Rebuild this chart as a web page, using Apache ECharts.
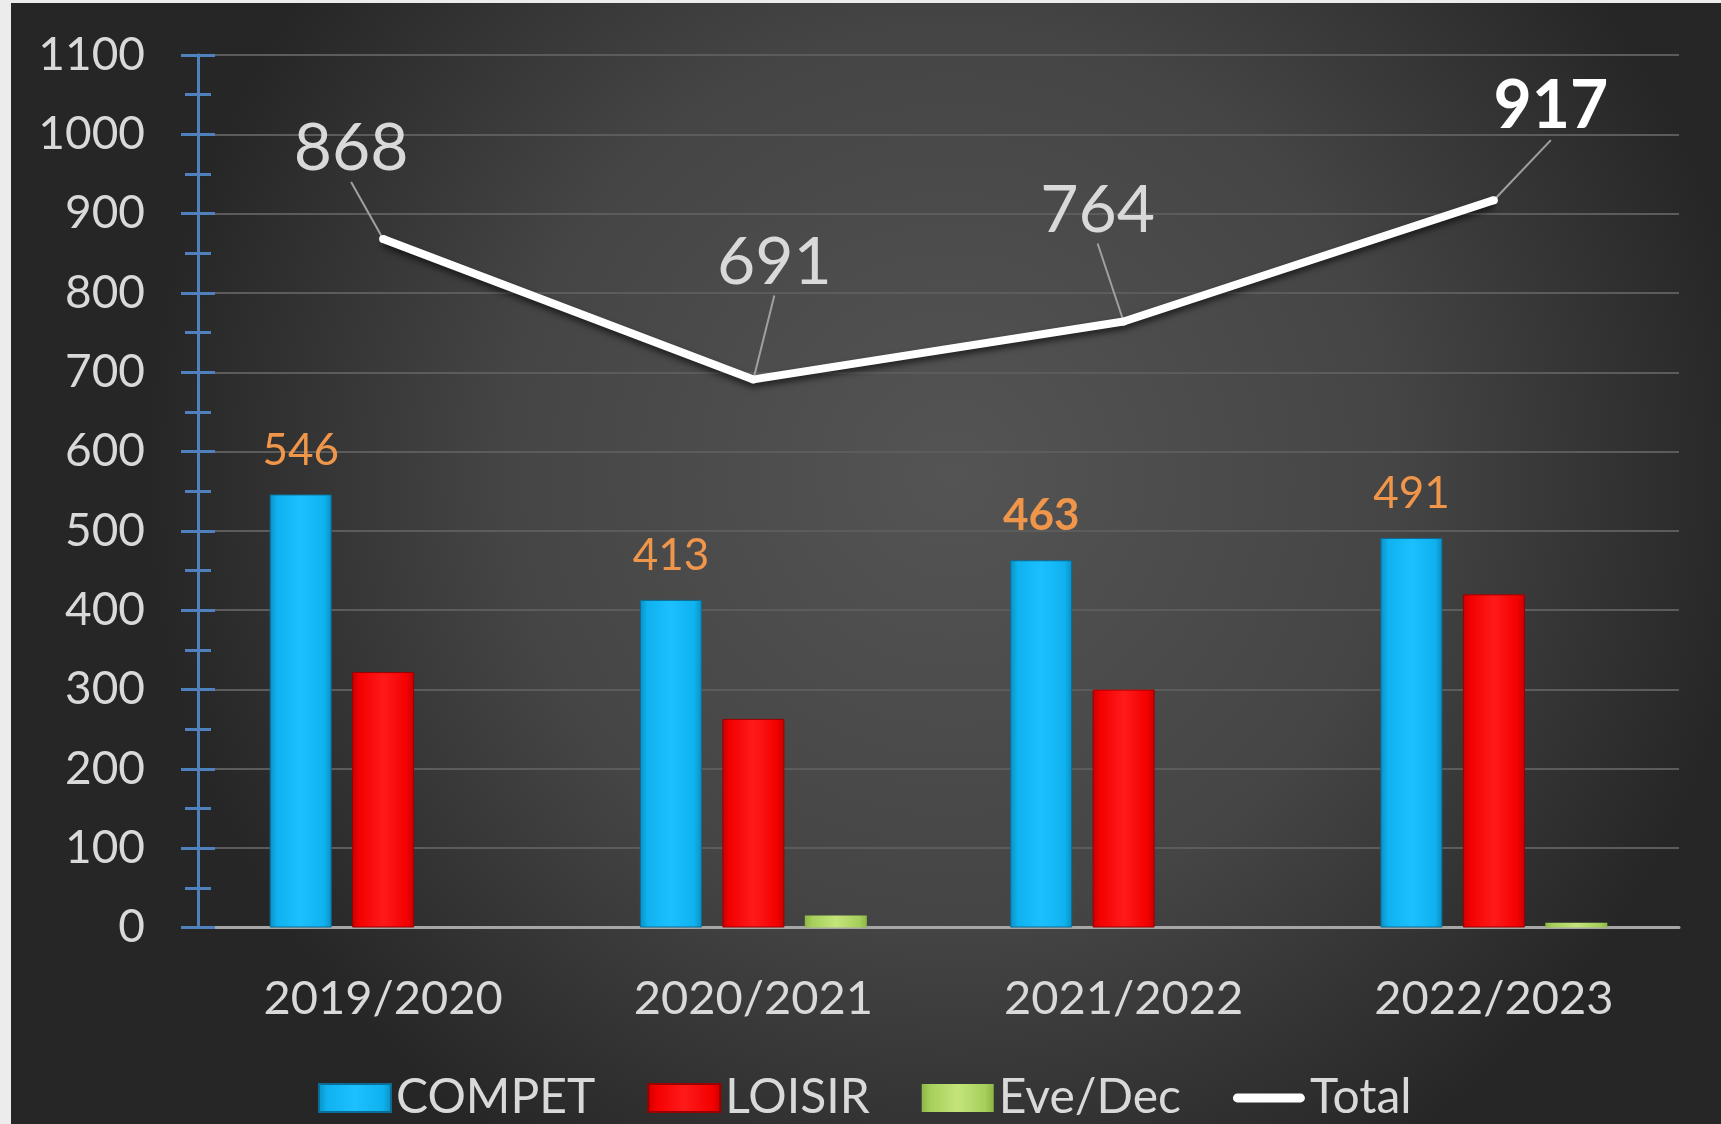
<!DOCTYPE html>
<html>
<head>
<meta charset="utf-8">
<script src="https://cdn.jsdelivr.net/npm/echarts@6/dist/echarts.min.js"></script>
<style>
  html, body { margin: 0; padding: 0; background: #ececec; overflow: hidden; }
  #chart { position: absolute; left: 11px; top: 3px; width: 1710px; height: 1121px; }
</style>
</head>
<body>
<div id="chart"></div>
<script>
// ---- data ----
const categories = ['2019/2020', '2020/2021', '2021/2022', '2022/2023'];
const compet = [546, 413, 463, 491];
const loisir = [322, 263, 300, 420];
const eveDec = [0, 15, 0, 6];
const total = [868, 691, 764, 917];
const yTicks = { min: 0, max: 1100, interval: 100 };

// ---- layout / style (not data) ----
const FONT = 'Lato, "Open Sans", sans-serif';
const totalLabelShift = [[-32, -90], [21, -117], [-26, -111], [57, -93]];

function barGrad(edge, mid, light) {
  return new echarts.graphic.LinearGradient(0, 0, 1, 0, [
    { offset: 0, color: edge },
    { offset: 0.12, color: mid },
    { offset: 0.5, color: light },
    { offset: 0.88, color: mid },
    { offset: 1, color: edge }
  ]);
}

const chart = echarts.init(document.getElementById('chart'), null, { renderer: 'canvas' });

const yAxisCommon = {
  type: 'value',
  min: yTicks.min, max: yTicks.max, interval: yTicks.interval,
  position: 'left', offset: 0,
  axisLine: { show: true, lineStyle: { color: '#4F81BD', width: 3 } },
  minorTick: { show: true, splitNumber: 2, length: 13, lineStyle: { color: '#4F81BD', width: 3 } },
  axisTick: { show: true, length: 17, lineStyle: { color: '#4F81BD', width: 3 } }
};

const option = {
  backgroundColor: new echarts.graphic.RadialGradient(0.55, 0.42, 0.72, [
    { offset: 0, color: '#545454' },
    { offset: 0.55, color: '#454545' },
    { offset: 1, color: '#262626' }
  ]),
  animation: false,
  textStyle: { fontFamily: FONT },
  grid: { left: 187, right: 42, top: 52, bottom: 196.5, containLabel: false },
  legend: {
    left: 302, top: 1066,
    itemWidth: 72, itemHeight: 28, itemGap: 52,
    textStyle: { color: '#d9d9d9', fontSize: 48, fontFamily: FONT },
    data: [
      { name: 'COMPET', icon: 'rect' },
      { name: 'LOISIR', icon: 'rect' },
      { name: 'Eve/Dec', icon: 'rect' },
      { name: 'Total', icon: 'path://M5,0 H77 A5,5 0 0 1 77,10 H5 A5,5 0 0 1 5,0 Z', itemStyle: { color: '#ffffff' } }
    ]
  },
  xAxis: {
    type: 'category',
    data: categories,
    axisLine: { show: true, lineStyle: { color: '#a6a6a6', width: 3 } },
    axisTick: { show: false },
    axisLabel: { color: '#d9d9d9', fontSize: 47, margin: 48, fontFamily: FONT }
  },
  yAxis: [
    Object.assign({}, yAxisCommon, {
      axisTick: Object.assign({}, yAxisCommon.axisTick, { inside: false }),
      axisLabel: { color: '#d9d9d9', fontSize: 46, margin: 53, fontFamily: FONT, formatter: v => String(v) },
      splitLine: { show: true, lineStyle: { color: '#5c5c5c', width: 2 } }
    }),
    Object.assign({}, yAxisCommon, {
      axisTick: Object.assign({}, yAxisCommon.axisTick, { inside: true }),
      axisLabel: { show: false },
      splitLine: { show: false }
    })
  ],
  series: [
    {
      name: 'COMPET', type: 'bar', barWidth: 62, barGap: '33%',
      data: compet.map((v, i) => i === 2 ? { value: v, label: { fontWeight: 'bold' } } : v),
      itemStyle: { color: barGrad('#0a8fc4', '#0fb2ee', '#1cc0ff'), borderColor: '#0b6d96', borderWidth: 1 },
      label: { show: true, position: 'top', distance: 22, color: '#F0964A', fontSize: 44, fontFamily: FONT },
      z: 3
    },
    {
      name: 'LOISIR', type: 'bar', barWidth: 62, barGap: '33%',
      data: loisir,
      itemStyle: { color: barGrad('#c80000', '#f40000', '#ff1a1a'), borderColor: '#9a0000', borderWidth: 1 },
      z: 3
    },
    {
      name: 'Eve/Dec', type: 'bar', barWidth: 62, barGap: '33%',
      data: eveDec,
      itemStyle: { color: barGrad('#8db645', '#a6cf5c', '#c4e47a'), borderWidth: 0 },
      z: 3
    },
    {
      name: 'Total', type: 'line',
      data: total.map((v, i) => i === 3 ? { value: v, label: { fontWeight: 'bold', color: '#ffffff' } } : v),
      symbol: 'circle', symbolSize: 8, showSymbol: true,
      itemStyle: { color: '#ffffff' },
      lineStyle: { color: '#ffffff', width: 8, shadowColor: 'rgba(0,0,0,0.6)', shadowBlur: 6, shadowOffsetY: 4 },
      label: { show: true, position: 'inside', color: '#d9d9d9', fontSize: 66, fontFamily: FONT },
      labelLine: { show: true, lineStyle: { color: '#a0a0a0', width: 2 } },
      labelLayout: function (p) {
        const s = totalLabelShift[p.dataIndex];
        return { dx: s[0], dy: s[1] };
      },
      z: 5
    }
  ]
};
chart.setOption(option);
</script>
</body>
</html>
